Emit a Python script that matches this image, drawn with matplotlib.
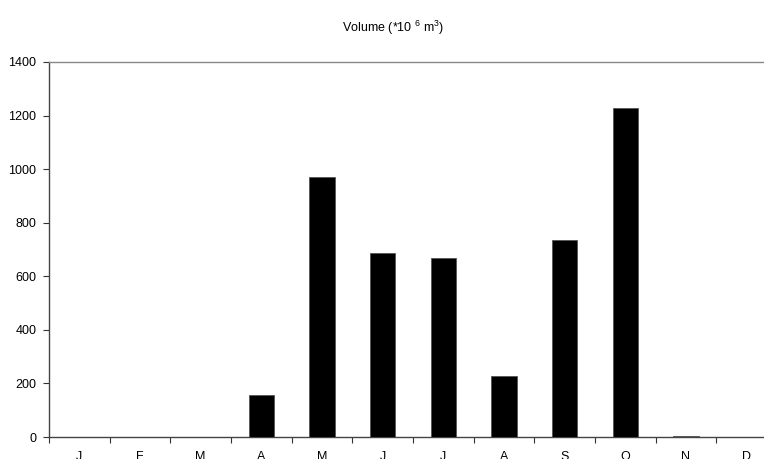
import matplotlib
matplotlib.use('Agg')
import matplotlib.pyplot as plt
import numpy as np

# ---------- data ----------
months = ['J', 'F', 'M', 'A', 'M', 'J', 'J', 'A', 'S', 'O', 'N', 'D']
volume = [0, 0, 0, 157, 969, 688, 667, 228, 734, 1228, 5, 0]
yticks = [0, 200, 400, 600, 800, 1000, 1200, 1400]

plt.rcParams['font.family'] = ['Liberation Sans', 'DejaVu Sans']
plt.rcParams['mathtext.default'] = 'regular'

fig = plt.figure(figsize=(7.64, 4.59), dpi=100)
ax = fig.add_axes([49/764, 1-437/459, 728/764, 375/459])

x = np.arange(len(months))
ax.bar(x, volume, width=0.42, color='black', edgecolor='#555555', linewidth=0.6, zorder=3)

ax.set_xlim(-0.5, len(months)-0.5)
ax.set_ylim(0, 1400)
ax.set_yticks(yticks)
ax.set_yticklabels([str(v) for v in yticks], fontsize=9)

# ticks at category boundaries, labels at centres
ax.set_xticks(np.arange(-0.5, len(months)+0.5, 1))
ax.set_xticklabels([])
ax.set_xticks(x, minor=True)
ax.set_xticklabels(months, minor=True, fontsize=9)
ax.tick_params(axis='x', which='major', direction='out', length=4, width=0.8, color='#333333')
ax.tick_params(axis='x', which='minor', length=0, pad=10)
ax.tick_params(axis='y', direction='out', length=4, width=0.8, color='#333333', pad=5)

for s in ['left', 'bottom']:
    ax.spines[s].set_color('#444444')
    ax.spines[s].set_linewidth(1.0)
ax.spines['top'].set_color('#888888')
ax.spines['top'].set_linewidth(1.0)
ax.spines['right'].set_visible(False)

fig.text(393/764, 1-28/459, 'Volume (*10 $^{6}$ m$^{3}$)', ha='center', va='center', fontsize=9)

fig.savefig('out.png', dpi=100)
